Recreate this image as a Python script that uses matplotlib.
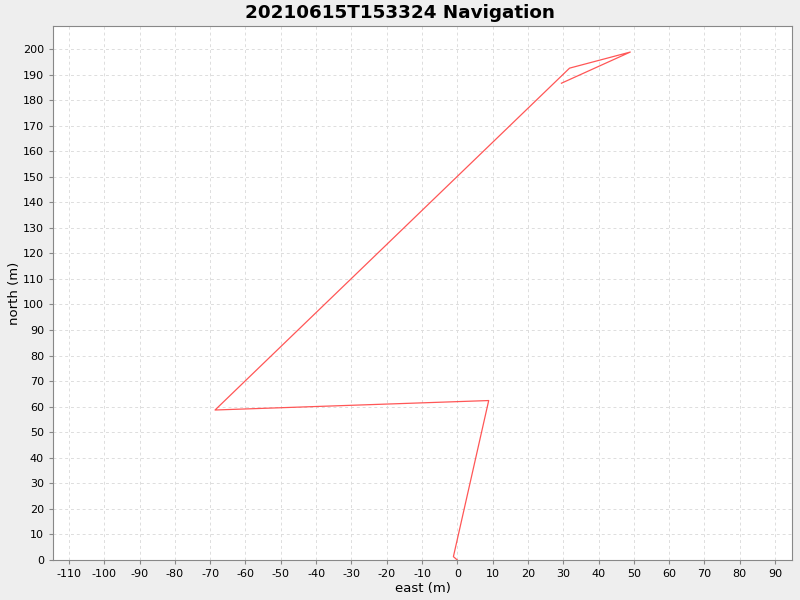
import numpy as np
import matplotlib.pyplot as plt

plt.rcParams['axes.unicode_minus'] = False

# track points
east = [0.0, -1.1, 8.9, -68.6, 31.8, 49.0, 29.5]
north = [0.0, 1.3, 62.4, 58.7, 192.5, 198.8, 186.6]

fig = plt.figure(figsize=(8, 6), dpi=100, facecolor='#eeeeee')
ax = fig.add_axes([0.06625, 0.0667, 0.92375, 0.89])
ax.set_facecolor('white')

ax.plot(east, north, color='#ff4444', lw=0.9, alpha=0.9)

ax.set_xlim(-114.5, 94.8)
ax.set_ylim(0, 209)
ax.set_xticks(np.arange(-110, 91, 10))
ax.set_yticks(np.arange(0, 201, 10))
ax.tick_params(labelsize=8, length=3, color='#888888')
ax.grid(True, color='#dddddd', ls='--', lw=0.7, dashes=(3, 3))
for s in ax.spines.values():
    s.set_color('#888888')

ax.set_xlabel('east (m)', fontsize=9.5, labelpad=2)
ax.set_ylabel('north (m)', fontsize=9.5, labelpad=1)
fig.suptitle('20210615T153324 Navigation', fontsize=13.2, fontweight='bold', y=0.993)

fig.savefig('out.png', dpi=100, facecolor=fig.get_facecolor())
